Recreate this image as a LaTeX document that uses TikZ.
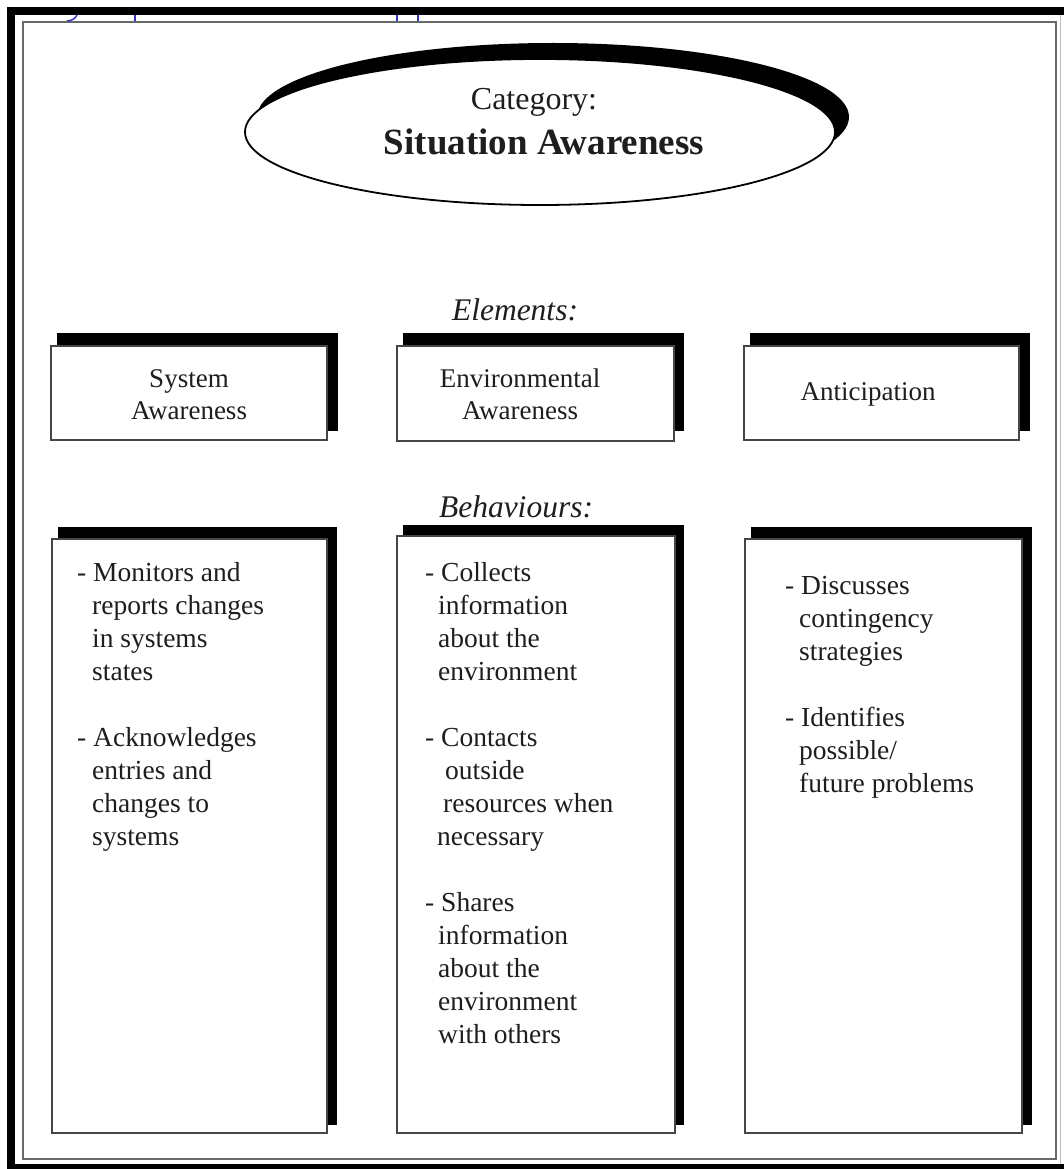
\documentclass[tikz,border=0pt]{standalone}
\usepackage{fontspec}
\setmainfont{Liberation Serif}
\usetikzlibrary{shapes.geometric}
\definecolor{boxline}{RGB}{70,70,70}
\definecolor{frameline}{RGB}{105,105,105}
\definecolor{bluemark}{RGB}{50,50,210}
\definecolor{inktext}{RGB}{30,30,30}
\begin{document}
\begin{tikzpicture}[x=1pt,y=-1pt,
  frontbox/.style={draw=boxline, line width=1.6pt, fill=white, rectangle, inner sep=0pt, anchor=north west},
  shadowfill/.style={fill=black},
  eltext/.style={font=\fontsize{27}{32}\selectfont, anchor=base, inner sep=0pt, text=inktext},
  behtext/.style={font=\fontsize{27.5}{33}\selectfont, anchor=base west, inner sep=0pt, text=inktext},
  hdr/.style={font=\fontsize{31.5}{36}\selectfont\itshape, anchor=base, inner sep=0pt, text=inktext},
]
\useasboundingbox (0,0) rectangle (1064,1169);
\fill[white] (0,0) rectangle (1064,1169);
% outer black frame (left, top, bottom)
\fill[black] (7,7) rectangle (1064,15);
\fill[black] (7,7) rectangle (15,1169);
\fill[black] (7,1164) rectangle (1064,1169);
% inner thin frame
\draw[frameline, line width=1.8pt] (23,22) rectangle (1056,1159);
\draw[black!25, line width=0.8pt] (1060.5,15) -- (1060.5,1164);
% blue remnants of cut-off text
\draw[bluemark, line width=1.5pt] (77,15) .. controls (75,19) and (72,20.5) .. (67,21);
\draw[bluemark, line width=1.3pt] (135,15) -- (135,21);
\draw[bluemark, line width=1.3pt] (397,15) -- (397,21);
\draw[bluemark, line width=1.3pt] (418,15) -- (418,21);

% category ellipse with shadow
\fill[black] (553,117) ellipse [x radius=296, y radius=74];
\node (cat) [ellipse, draw=black, line width=1.8pt, fill=white, inner sep=0pt,
  minimum width=590pt, minimum height=146pt] at (540,132) {};
\node (catlabel) [font=\fontsize{32}{38}\selectfont, anchor=base, inner sep=0pt, text=inktext] at (534,110) {Category:};
\node (catname) [font=\fontsize{37}{42}\selectfont\bfseries, anchor=base, inner sep=0pt, text=inktext] at (544,155) {Situation Awareness};

% headers
\node (elements) [hdr] at (515,320) {Elements:};
\node (behaviours) [hdr] at (516,517) {Behaviours:};

% element boxes
\fill[shadowfill] (57,333) rectangle (338,431);
\node (sys) [frontbox, minimum width=276pt, minimum height=94pt] at (50,345) {};
\fill[shadowfill] (403,333) rectangle (684,431);
\node (env) [frontbox, minimum width=277pt, minimum height=95pt] at (396,345) {};
\fill[shadowfill] (750,333) rectangle (1030,431);
\node (ant) [frontbox, minimum width=275pt, minimum height=94pt] at (743,345) {};
\node (sys1) [eltext] at (189,387) {System};
\node (sys2) [eltext] at (189,419) {Awareness};
\node (env1) [eltext] at (520,387) {Environmental};
\node (env2) [eltext] at (520,419) {Awareness};
\node (ant1) [eltext] at (868,400) {Anticipation};

% behaviour boxes
\fill[shadowfill] (58,527) rectangle (337,1125);
\node (sysb) [frontbox, minimum width=275pt, minimum height=594pt] at (51,538) {};
\fill[shadowfill] (403,525) rectangle (684,1125);
\node (envb) [frontbox, minimum width=278pt, minimum height=597pt] at (396,535) {};
\fill[shadowfill] (751,527) rectangle (1032,1125);
\node (antb) [frontbox, minimum width=277pt, minimum height=594pt] at (744,538) {};

% behaviour texts
\foreach \txt/\xx/\yy [count=\i] in {
  {- Monitors and}/77/581, {reports changes}/92/614, {in systems}/92/647, {states}/92/680,
  {- Acknowledges}/77/746, {entries and}/92/779, {changes to}/92/812, {systems}/92/845}
  \node (sl\i) [behtext] at (\xx,\yy) {\txt};
\foreach \txt/\xx/\yy [count=\i] in {
  {- Collects}/425/581, {information}/438/614, {about the}/438/647, {environment}/438/680,
  {- Contacts}/425/746, {outside}/445/779, {resources when}/443/812, {necessary}/437/845,
  {- Shares}/425/911, {information}/438/944, {about the}/438/977, {environment}/438/1010,
  {with others}/438/1043}
  \node (el\i) [behtext] at (\xx,\yy) {\txt};
\foreach \txt/\xx/\yy [count=\i] in {
  {- Discusses}/785/594, {contingency}/799/627, {strategies}/799/660,
  {- Identifies}/785/726, {possible/}/799/759, {future problems}/799/792}
  \node (al\i) [behtext] at (\xx,\yy) {\txt};
\end{tikzpicture}
\end{document}
